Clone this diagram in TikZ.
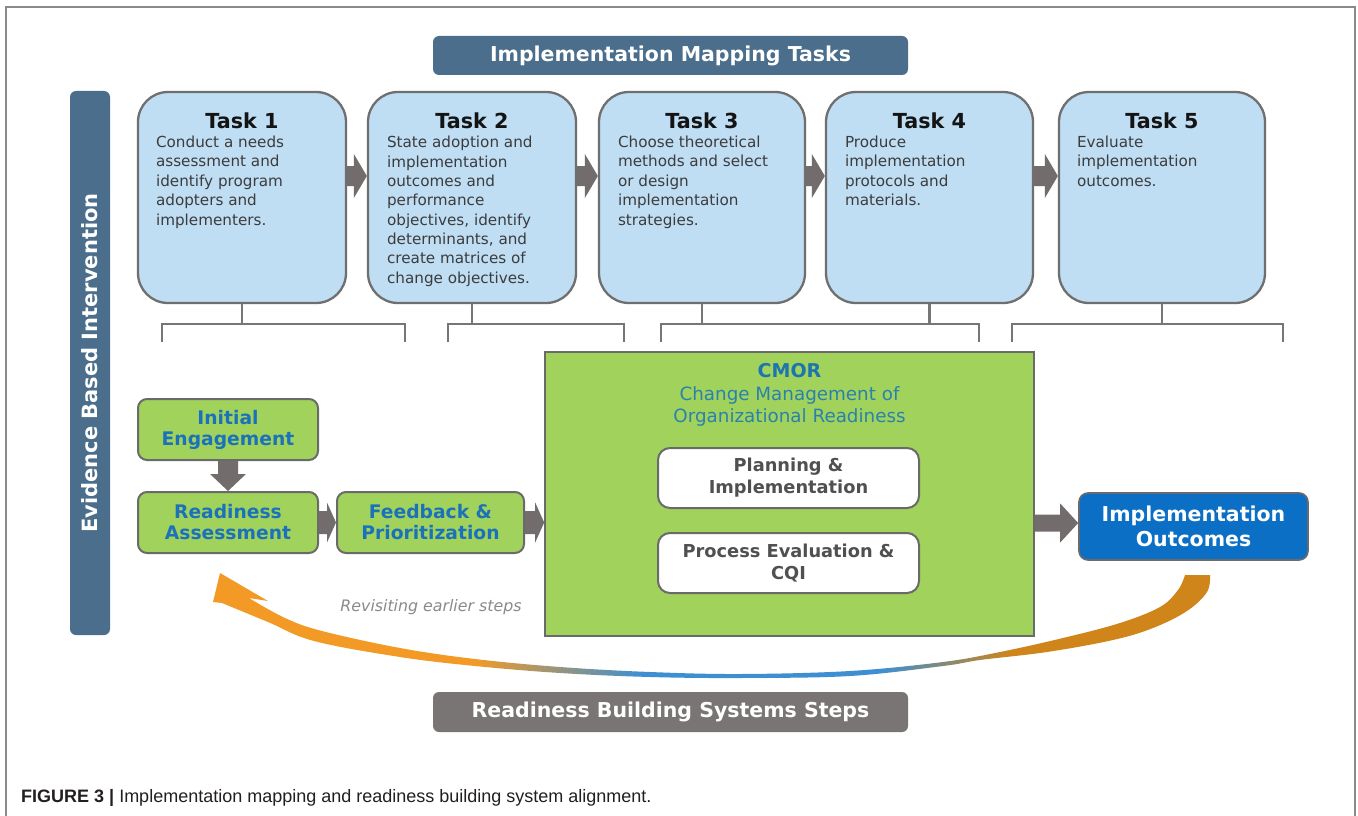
\documentclass[tikz,border=0pt]{standalone}
\usepackage{fontspec}
\setmainfont{DejaVu Sans}
\newfontfamily\capfont{Liberation Sans}
\usetikzlibrary{calc}
\definecolor{steel}{HTML}{4A6E8B}
\definecolor{taskblue}{HTML}{BFDDF3}
\definecolor{boxgray}{HTML}{6F6F6F}
\definecolor{brkgray}{HTML}{767676}
\definecolor{bodygray}{HTML}{3C3C3C}
\definecolor{green1}{HTML}{A0D25C}
\definecolor{gborder}{HTML}{6A6A6A}
\definecolor{gtext}{HTML}{1B72BA}
\definecolor{cmortext}{HTML}{1E74AE}
\definecolor{cmorsub}{HTML}{2A82AC}
\definecolor{pitext}{HTML}{505050}
\definecolor{ioblue}{HTML}{0B6FC6}
\definecolor{arrowgray}{HTML}{726C6C}
\definecolor{rbsgray}{HTML}{7A7575}
\definecolor{framegray}{HTML}{8A8A8A}
\definecolor{orL}{HTML}{F39A26}
\definecolor{orR}{HTML}{CF8519}
\definecolor{bandblue}{HTML}{3E8FD2}
\definecolor{revgray}{HTML}{8A8A8A}
\definecolor{captext}{HTML}{231F20}
\newcommand\fs[2]{\fontsize{#1}{#2}\selectfont}
\pgfdeclarehorizontalshading{revshade}{100bp}{color(0bp)=(orL); color(38bp)=(orL); color(46.5bp)=(bandblue); color(58.5bp)=(bandblue); color(65bp)=(orR); color(100bp)=(orR)}
% horizontal block arrow: from anchor, to anchor, y, shaft half, head half, head length
\newcommand\harrow[6]{%
  \coordinate (ha1) at (#1 |- 0,#3);
  \coordinate (ha2) at (#2 |- 0,#3);
  \fill[arrowgray] ($(ha1)+(0,-#4)$) -- ($(ha2)+(-#6,-#4)$) -- ($(ha2)+(-#6,-#5)$) -- (ha2)
    -- ($(ha2)+(-#6,#5)$) -- ($(ha2)+(-#6,#4)$) -- ($(ha1)+(0,#4)$) -- cycle;}
% vertical (downward) block arrow
\newcommand\varrow[5]{%
  \coordinate (va1) at (#1);
  \coordinate (va2) at (#2);
  \fill[arrowgray] ($(va1)+(-#3,0)$) -- ($(va2)+(-#3,-#5)$) -- ($(va2)+(-#4,-#5)$) -- (va2)
    -- ($(va2)+(#4,-#5)$) -- ($(va2)+(#3,-#5)$) -- ($(va1)+(#3,0)$) -- cycle;}
\begin{document}
\begin{tikzpicture}[x=1pt,y=-1pt,
  taskbox/.style={draw=boxgray, line width=2.3pt, fill=taskblue, rounded corners=30pt, minimum height=211pt, inner sep=0pt},
  tasktitle/.style={font=\bfseries\fs{20.7}{24}, text=black!92, inner sep=0pt},
  taskbody/.style={font=\fs{15.2}{19.4}, text=bodygray, align=left, inner sep=0pt, anchor=north west},
  brk/.style={draw=brkgray, line width=2.3pt},
  gbox/.style={draw=gborder, line width=2pt, fill=green1, rounded corners=9pt, minimum height=61pt, align=center, font=\bfseries\fs{18.7}{21}, text=gtext, inner sep=0pt},
  wbox/.style={draw=gborder, line width=2pt, fill=white, rounded corners=12pt, minimum width=261pt, minimum height=60pt, align=center, font=\bfseries\fs{17.8}{22}, text=pitext, inner sep=0pt},
  banner/.style={fill=#1, rounded corners=6pt, inner sep=0pt, text=white, font=\bfseries\fs{20.5}{24}}
]
\useasboundingbox (0,0) rectangle (1358,816);
\fill[white] (0,0) rectangle (1358,816);
\draw[framegray, line width=1.6pt] (6,816) -- (6,7) -- (1355,7) -- (1355,816);

% banners
\node[banner=steel, minimum width=475pt, minimum height=39pt] (hdr) at (670.5,55.5) {Implementation Mapping Tasks};
\node[banner=steel, minimum width=40pt, minimum height=544pt] (ebi) at (90,363) {};
\node[rotate=90, text=white, font=\bfseries\fs{21}{24}, inner sep=0pt] (ebit) at (ebi.center) {Evidence Based Intervention};
\node[banner=rbsgray, minimum width=475pt, minimum height=40pt] (rbs) at (670.5,712) {Readiness Building Systems Steps};

% task boxes
\node[taskbox, minimum width=208pt] (t1) at (242,197.5) {};
\node[taskbox, minimum width=208pt] (t2) at (472,197.5) {};
\node[taskbox, minimum width=206pt] (t3) at (702,197.5) {};
\node[taskbox, minimum width=207pt] (t4) at (929.5,197.5) {};
\node[taskbox, minimum width=206pt] (t5) at (1162,197.5) {};
\foreach \i in {1,...,5}{
  \node[tasktitle] (t\i h) at ($(t\i.north)+(0,29.5)$) {Task \i};
}
\node[taskbody] (t1b) at ($(t1.north west)+(19,45)$) {Conduct a needs\\assessment and\\identify program\\adopters and\\implementers.};
\node[taskbody] (t2b) at ($(t2.north west)+(20,45)$) {State adoption and\\implementation\\outcomes and\\performance\\objectives, identify\\determinants, and\\create matrices of\\change objectives.};
\node[taskbody] (t3b) at ($(t3.north west)+(20,45)$) {Choose theoretical\\methods and select\\or design\\implementation\\strategies.};
\node[taskbody] (t4b) at ($(t4.north west)+(20,45)$) {Produce\\implementation\\protocols and\\materials.};
\node[taskbody] (t5b) at ($(t5.north west)+(19,45)$) {Evaluate\\implementation\\outcomes.};

% task arrows
\harrow{t1.east}{t2.west}{176}{10}{22}{13}
\harrow{t2.east}{t3.west}{176}{10}{22}{13}
\harrow{t3.east}{t4.west}{176}{10}{22}{13}
\harrow{t4.east}{t5.west}{176}{10}{22}{13}

% brackets
\coordinate (b1L) at (162,342); \coordinate (b1R) at (405,342);
\coordinate (b2L) at (448,342); \coordinate (b2R) at (624,342);
\coordinate (b3L) at (661,342); \coordinate (b3R) at (979,342);
\coordinate (b4L) at (1012,342); \coordinate (b4R) at (1283,342);
\foreach \b in {1,...,4}{
  \draw[brk] (b\b L) -- (b\b L |- 0,324) -- (b\b R |- 0,324) -- (b\b R);
}
\draw[brk] (t1.south) -- (t1.south |- 0,324);
\draw[brk] (t2.south) -- (t2.south |- 0,324);
\draw[brk] (t3.south) -- (t3.south |- 0,324);
\draw[brk] (t4.south) -- (t4.south |- 0,324);
\draw[brk] (t5.south) -- (t5.south |- 0,324);

% readiness building steps
\node[gbox, minimum width=180pt] (ie) at (228,429.5) {Initial\\Engagement};
\node[gbox, minimum width=180pt] (ra) at (228,522.5) {Readiness\\Assessment};
\node[gbox, minimum width=187pt] (fp) at (430.5,522.5) {Feedback \&\\Prioritization};

% CMOR
\node[draw=gborder, line width=1.6pt, fill=green1, minimum width=489pt, minimum height=284pt, inner sep=0pt] (cmor) at (789.5,494) {};
\node[text=cmortext, font=\bfseries\fs{19}{22}, inner sep=0pt] (cmort) at (789.5,371) {CMOR};
\node[text=cmorsub, font=\fs{18.3}{21.5}, align=center, inner sep=0pt] (cmors) at (789.5,406.5) {Change Management of\\Organizational Readiness};
\node[wbox] (pi) at (788.5,478) {Planning \&\\Implementation};
\node[wbox] (pe) at (788.5,563) {Process Evaluation \&\\CQI};

% implementation outcomes
\node[draw=gborder, line width=1.6pt, fill=ioblue, rounded corners=9pt, minimum width=229pt, minimum height=67pt, inner sep=0pt, align=center, text=white, font=\bfseries\fs{20.5}{25.5}] (io) at (1193.5,526.5) {Implementation\\Outcomes};

% block arrows in the lower row
\varrow{ie.south}{ra.north}{10}{18}{17}
\harrow{ra.east}{fp.west}{522.5}{11.5}{20}{9}
\harrow{fp.east}{cmor.west}{522.5}{11.5}{20}{9}
\harrow{cmor.east}{io.west}{523}{8.5}{19.5}{18}

% revisiting arrow
\coordinate (revTip) at (220,573);
\shade[shading=revshade] (revTip) -- (268,601) -- (249,598)
  -- plot[smooth, tension=0.6] coordinates {(249,598) (285,618) (322,631) (400,648) (475,659) (560,667) (650,672) (741,674) (850,671) (943,662) (1000,652) (1063,638) (1120,623) (1160,607) (1178,590) (1185,575)}
  -- (1210,575)
  -- plot[smooth, tension=0.6] coordinates {(1210,575) (1207,592) (1187,611) (1153,628) (1113,640) (1047,652) (980,660) (943,666) (850,676) (741,678) (650,677) (560,673) (475,666) (400,657) (314,641) (268,622) (222,603)}
  -- (213,602) -- cycle;
\node[text=revgray, font=\itshape\fs{15.8}{18}, inner sep=0pt] (rev) at (431,607) {Revisiting earlier steps};

% caption
\node[anchor=base west, inner sep=0pt, text=captext, font=\capfont\fs{18}{20}] (cap) at (21,802) {\textbf{FIGURE 3 |} Implementation mapping and readiness building system alignment.};
\end{tikzpicture}
\end{document}
